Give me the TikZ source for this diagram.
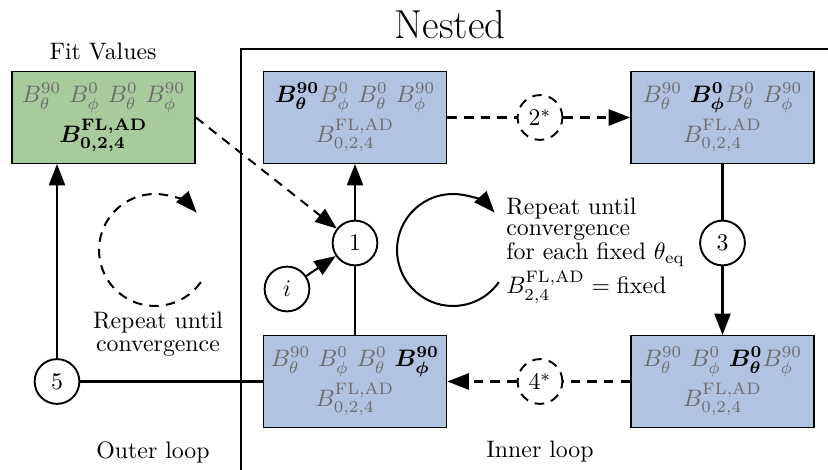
\documentclass[tikz,border=0pt]{standalone}
\usepackage{amsmath,bm}
\usetikzlibrary{arrows.meta}
\definecolor{boxblue}{RGB}{176,196,226}
\definecolor{boxgreen}{RGB}{168,203,158}
\colorlet{dimtext}{black!58}
\newcommand{\dm}[1]{\textcolor{dimtext}{#1}}
\begin{document}
\begin{tikzpicture}[x=0.42pt,y=0.42pt,
  longdash/.style={dash pattern=on 4pt off 3pt},
  stagebox/.style={draw=black,line width=0.6pt,fill=boxblue,minimum width=77pt,minimum height=38.5pt,align=center,inner sep=1pt},
  fitbox/.style={stagebox,fill=boxgreen},
  stepcirc/.style={draw=black,line width=0.8pt,circle,minimum size=18.8pt,inner sep=0pt},
  optcirc/.style={stepcirc,longdash},
  conn/.style={line width=0.85pt},
  arr/.style={conn,-{Triangle[length=9pt,width=6.8pt]}},
  lbl/.style={align=center,font=\fontsize{10}{9.5}\selectfont}
]
\useasboundingbox (0,0) rectangle (828,470);
% frame
\draw[line width=0.6pt] (850,421) -- (241,421) -- (241,-20);
\node (nested) at (450,445) {\fontsize{17}{19}\selectfont Nested};
\node (fitlbl) at (103,418) {Fit Values};
% boxes
\node[fitbox] (fit) at (103.5,352.5) {\dm{$B^{90}_\theta$ $B^0_\phi$ $B^0_\theta$ $B^{90}_\phi$}\\[2pt]{\boldmath$B^{\mathrm{FL,AD}}_{0,2,4}$}};
\node[stagebox] (b1) at (355,352.5) {$\bm{B^{90}_\theta}$\dm{$B^0_\phi$ $B^0_\theta$ $B^{90}_\phi$}\\[2pt]\dm{$B^{\mathrm{FL,AD}}_{0,2,4}$}};
\node[stagebox] (b2) at (722.5,352.5) {\dm{$B^{90}_\theta$} $\bm{B^0_\phi}$\dm{$B^0_\theta$ $B^{90}_\phi$}\\[2pt]\dm{$B^{\mathrm{FL,AD}}_{0,2,4}$}};
\node[stagebox] (b3) at (355,88.5) {\dm{$B^{90}_\theta$ $B^0_\phi$ $B^0_\theta$} $\bm{B^{90}_\phi}$\\[2pt]\dm{$B^{\mathrm{FL,AD}}_{0,2,4}$}};
\node[stagebox] (b4) at (722.5,88.5) {\dm{$B^{90}_\theta$ $B^0_\phi$} $\bm{B^0_\theta}$\dm{$B^{90}_\phi$}\\[2pt]\dm{$B^{\mathrm{FL,AD}}_{0,2,4}$}};
% circles
\node[stepcirc] (c1) at (355,227) {1};
\node[stepcirc] (ci) at (287,181) {$i$};
\node[stepcirc] (c3) at (722.5,227) {3};
\node[stepcirc] (c5) at (57,88.5) {5};
\node[optcirc] (s2) at (540,352.5) {$2^{*}$};
\node[optcirc] (s4) at (540,88.5) {$4^{*}$};
% connectors
\draw[conn] (b3) -- (c1);
\draw[arr] (c1) -- (b1);
\draw[conn,longdash] (b1) -- (s2);
\draw[arr,longdash] (s2) -- (b2);
\draw[conn] (b2) -- (c3);
\draw[arr] (c3) -- (b4);
\draw[conn,longdash] (b4) -- (s4);
\draw[arr,longdash] (s4) -- (b3);
\draw[conn] (b3) -- (c5);
\draw[arr] (c5) -- (c5 |- fit.south);
\draw[arr,longdash] (fit.east) -- (c1);
\draw[arr] (ci) -- (c1);
% loops
\coordinate (lc) at (155,220);
\coordinate (mc) at (453,220);
\draw[arr,longdash] (lc) ++(-35:56) arc[start angle=-35,end angle=-318,radius=56];
\draw[arr] (mc) ++(-35:56) arc[start angle=-35,end angle=-318,radius=56];
\node[lbl] (outerrep) at (158,136) {Repeat until\\convergence};
\node[lbl,align=left,anchor=north west,font=\fontsize{10}{8.6}\selectfont] (innerrep) at (498,280) {Repeat until\\convergence\\for each fixed $\theta_{\mathrm{eq}}$\\[1pt]$B^{\mathrm{FL,AD}}_{2,4}=\text{fixed}$};
\node (outer) at (153,18) {Outer loop};
\node (inner) at (540,18) {Inner loop};
\end{tikzpicture}
\end{document}
